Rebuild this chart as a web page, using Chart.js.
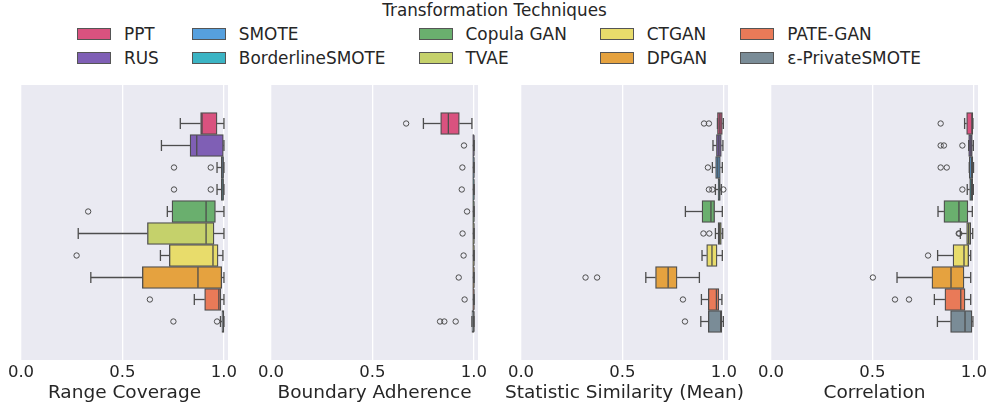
<!DOCTYPE html>
<html>
<head>
<meta charset="utf-8">
<script src="https://cdn.jsdelivr.net/npm/chart.js@4.4.1/dist/chart.umd.min.js"></script>
<style>
  body { margin: 0; background: #fff; width: 989px; height: 407px; overflow: hidden; position: relative;
         font-family: "DejaVu Sans", sans-serif; color: #262626; }
  canvas.panel { position: absolute; top: 80px; }
  #legendTitle { position: absolute; top: 0; left: 0; width: 989px; text-align: center; font-size: 16.8px; line-height: 20px; }
  #legend { position: absolute; top: 24px; left: 77px; display: flex; gap: 33px; font-size: 16.9px; }
  .col { display: flex; flex-direction: column; gap: 4px; }
  .item { display: flex; align-items: center; height: 20px; white-space: nowrap; }
  .sw { width: 34px; height: 12px; border: 1px solid #555; box-sizing: border-box; margin-right: 13px; }
</style>
</head>
<body>
<div id="legendTitle">Transformation Techniques</div>
<div id="legend"></div>

<script>
const techniques = ['PPT', 'RUS', 'SMOTE', 'BorderlineSMOTE', 'Copula GAN', 'TVAE', 'CTGAN', 'DPGAN', 'PATE-GAN', 'ε-PrivateSMOTE'];
const colors = ['#d9527f', '#7f5fb5', '#56a0de', '#3bb4c4', '#6aaf6e', '#c5d16b', '#e8dc6b', '#e5a23f', '#e97a58', '#7a8c97'];
const xTicks = [0, 0.5, 1.0];
const metricNames = ['Range Coverage', 'Boundary Adherence', 'Statistic Similarity (Mean)', 'Correlation'];

// Range Coverage
const rangeLow  = [0.785, 0.692, 0.966, 0.966, 0.721, 0.282, 0.687, 0.344, 0.854, 0.983];
const rangeQ1   = [0.885, 0.833, 0.987, 0.987, 0.744, 0.623, 0.731, 0.598, 0.905, 0.990];
const rangeMed  = [0.892, 0.866, 0.995, 0.995, 0.912, 0.912, 0.946, 0.872, 0.975, 0.997];
const rangeQ3   = [0.966, 0.997, 0.998, 0.998, 0.958, 0.951, 0.971, 0.989, 0.985, 1.000];
const rangeHigh = [1.000, 1.000, 1.000, 1.000, 1.000, 1.000, 0.995, 1.000, 1.000, 1.000];
const rangeOut  = [[], [], [0.754, 0.935], [0.754, 0.935], [0.331], [], [0.274], [], [0.635], [0.751, 0.966]];

// Boundary Adherence
const boundLow  = [0.751, 1.000, 1.000, 1.000, 1.000, 1.000, 1.000, 1.000, 1.000, 0.990];
const boundQ1   = [0.836, 0.994, 0.994, 0.994, 0.994, 0.994, 0.994, 0.994, 0.994, 0.990];
const boundMed  = [0.874, 1.000, 1.000, 1.000, 1.000, 1.000, 1.000, 1.000, 1.000, 1.000];
const boundQ3   = [0.928, 1.000, 1.000, 1.000, 1.000, 1.000, 1.000, 1.000, 1.000, 1.000];
const boundHigh = [0.990, 1.000, 1.000, 1.000, 1.000, 1.000, 1.000, 1.000, 1.000, 1.000];
const boundOut  = [[0.666], [0.951], [0.943], [0.940], [0.966], [0.944], [0.949], [0.925], [0.954], [0.833, 0.854, 0.910]];

// Statistic Similarity (Mean)
const statLow  = [0.968, 0.946, 0.943, 0.958, 0.810, 0.958, 0.892, 0.615, 0.889, 0.886];
const statQ1   = [0.968, 0.963, 0.959, 0.971, 0.892, 0.971, 0.915, 0.663, 0.923, 0.923];
const statMed  = [0.980, 0.975, 0.970, 0.977, 0.936, 0.979, 0.941, 0.725, 0.963, 0.984];
const statQ3   = [0.992, 0.987, 0.982, 0.982, 0.954, 0.987, 0.966, 0.769, 0.975, 0.989];
const statHigh = [0.997, 0.995, 0.992, 0.987, 0.992, 0.994, 0.992, 0.879, 0.990, 0.997];
const statOut  = [[0.902, 0.926], [], [0.921], [0.926, 0.943, 0.997], [], [0.899, 0.928], [], [0.318, 0.375], [0.798], [0.808]];

// Correlation
const corrLow  = [0.954, 0.974, 0.977, 0.967, 0.823, 0.933, 0.821, 0.621, 0.805, 0.820];
const corrQ1   = [0.964, 0.974, 0.977, 0.979, 0.852, 0.964, 0.897, 0.793, 0.857, 0.885];
const corrMed  = [0.990, 0.985, 0.988, 0.988, 0.926, 0.974, 0.951, 0.887, 0.935, 0.956];
const corrQ3   = [0.995, 0.992, 0.995, 0.994, 0.970, 0.984, 0.974, 0.951, 0.956, 0.990];
const corrHigh = [0.995, 0.997, 0.998, 0.997, 0.992, 0.994, 0.984, 0.984, 0.984, 0.995];
const corrOut  = [[0.836], [0.836, 0.852, 0.943], [0.836, 0.866], [0.943], [], [0.925, 0.928], [0.774], [0.502], [0.611, 0.680], []];

const panels = [
  { title: metricNames[0], low: rangeLow, q1: rangeQ1, med: rangeMed, q3: rangeQ3, high: rangeHigh, out: rangeOut },
  { title: metricNames[1], low: boundLow, q1: boundQ1, med: boundMed, q3: boundQ3, high: boundHigh, out: boundOut },
  { title: metricNames[2], low: statLow, q1: statQ1, med: statMed, q3: statQ3, high: statHigh, out: statOut },
  { title: metricNames[3], low: corrLow, q1: corrQ1, med: corrMed, q3: corrQ3, high: corrHigh, out: corrOut }
];

const FONT = '"DejaVu Sans", sans-serif';
const LINE = '#4d4d4d';
const boxWidth = 0.8 / techniques.length;
const pos = techniques.map((_, i) => (i - (techniques.length - 1) / 2) * boxWidth);

// legend, column-major like matplotlib
const legend = document.getElementById('legend');
for (let c = 0; c < techniques.length; c += 2) {
  const col = document.createElement('div');
  col.className = 'col';
  [c, c + 1].forEach(i => {
    const item = document.createElement('div');
    item.className = 'item';
    item.innerHTML = '<span class="sw" style="background:' + colors[i] + '"></span>' + techniques[i];
    col.appendChild(item);
  });
  legend.appendChild(col);
}

const boxParts = {
  id: 'boxParts',
  beforeDraw(chart) {
    const { ctx, chartArea: a } = chart;
    ctx.save();
    ctx.fillStyle = '#eaeaf2';
    ctx.fillRect(a.left, a.top, a.width, a.height);
    ctx.restore();
  },
  afterDatasetsDraw(chart) {
    const p = chart.options.plugins.boxParts.panel;
    const { ctx } = chart;
    const x = chart.scales.x, y = chart.scales.y;
    const half = Math.abs(y.getPixelForValue(boxWidth / 2) - y.getPixelForValue(0));
    ctx.save();
    ctx.strokeStyle = LINE;
    ctx.lineWidth = 1.3;
    const line = (x1, y1, x2, y2) => { ctx.beginPath(); ctx.moveTo(x1, y1); ctx.lineTo(x2, y2); ctx.stroke(); };
    pos.forEach((v, i) => {
      const yc = y.getPixelForValue(v);
      const xl = x.getPixelForValue(p.low[i]), x1 = x.getPixelForValue(p.q1[i]);
      const x3 = x.getPixelForValue(p.q3[i]), xh = x.getPixelForValue(p.high[i]);
      const xm = x.getPixelForValue(p.med[i]);
      line(xl, yc, x1, yc);
      line(x3, yc, xh, yc);
      line(xl, yc - half / 2, xl, yc + half / 2);
      line(xh, yc - half / 2, xh, yc + half / 2);
      line(xm, yc - half + 0.7, xm, yc + half - 0.7);
    });
    ctx.restore();
  },
  afterDraw(chart) {
    // axis title without the scale's maxWidth squeeze
    const p = chart.options.plugins.boxParts.panel;
    const { ctx, chartArea: a } = chart;
    ctx.save();
    ctx.fillStyle = '#262626';
    ctx.font = '18.5px ' + FONT;
    ctx.textAlign = 'center';
    ctx.textBaseline = 'middle';
    ctx.fillText(p.title, (a.left + a.right) / 2, chart.height - 14);
    ctx.restore();
  }
};

panels.forEach((p, k) => {
  const canvas = document.createElement('canvas');
  canvas.className = 'panel';
  canvas.width = 247;
  canvas.height = 327;
  canvas.style.left = (1 + 250 * k) + 'px';
  document.body.appendChild(canvas);

  const outliers = [];
  p.out.forEach((list, i) => list.forEach(v => outliers.push({ x: v, y: pos[i] })));

  new Chart(canvas, {
    type: 'bar',
    data: {
      datasets: [{
        type: 'bar',
        indexAxis: 'y',
        data: p.q1.map((v, i) => ({ x: [v, p.q3[i]], y: pos[i] })),
        backgroundColor: colors,
        borderColor: LINE,
        borderWidth: 1.3,
        borderSkipped: false,
        categoryPercentage: 1,
        barPercentage: 1
      }, {
        type: 'scatter',
        data: outliers,
        pointRadius: 2.7,
        pointBorderWidth: 1,
        pointBorderColor: LINE,
        pointBackgroundColor: 'rgba(0,0,0,0)'
      }]
    },
    options: {
      responsive: false,
      animation: false,
      layout: { padding: { left: 20, right: 20, top: 0, bottom: 0 } },
      plugins: { legend: { display: false }, tooltip: { enabled: false }, boxParts: { panel: p } },
      scales: {
        x: {
          type: 'linear', min: 0, max: 1.02, offset: false,
          afterBuildTicks: s => { s.ticks = xTicks.map(v => ({ value: v })); },
          afterFit: s => { s.height = 47; },
          grid: { color: '#ffffff', lineWidth: 1.3, drawTicks: false, offset: false },
          border: { display: false },
          ticks: { color: '#262626', font: { family: FONT, size: 16.5 }, padding: 3, callback: v => v.toFixed(1) },
          title: { display: false }
        },
        y: { type: 'linear', min: -0.5, max: 0.5, reverse: true, offset: false, display: false, ticks: { stepSize: 0.5 } }
      }
    },
    plugins: [boxParts]
  });
});
</script>
</body>
</html>
